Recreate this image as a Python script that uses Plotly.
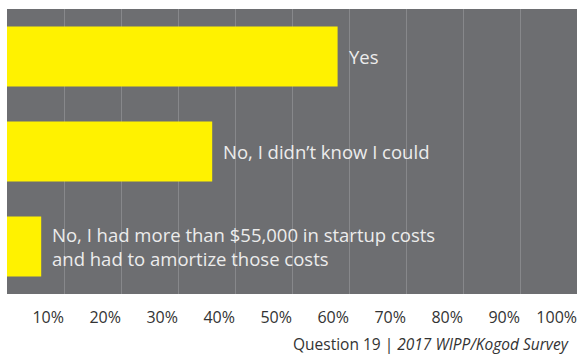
import plotly.graph_objects as go

# Survey responses (percent of respondents)
categories = ["Yes", "No, I didn’t know I could",
              "No, I had more than $55,000 in startup costs<br>and had to amortize those costs"]
values = [58, 36, 6]
tick_values = [10, 20, 30, 40, 50, 60, 70, 80, 90, 100]
tick_labels = [f"{v}%" for v in tick_values]

FONT = "Open Sans"
BG = "#6d6e71"
GRID = "#87888b"
BAR = "#fff200"

fig = go.Figure()
fig.add_trace(go.Bar(
    x=values,
    y=categories,
    orientation="h",
    marker=dict(color=BAR, line=dict(width=0)),
    hoverinfo="skip",
))

# Category labels sit just past the end of each bar
for cat, val in zip(categories, values):
    fig.add_annotation(
        x=val, y=cat, xref="x", yref="y",
        text=cat, showarrow=False,
        xanchor="left", yanchor="middle", align="left",
        xshift=9,
        font=dict(family=FONT, size=18.5, color="#ececec"),
    )

# Source line
fig.add_annotation(
    x=1, y=0, xref="paper", yref="paper",
    xanchor="right", yanchor="top", yshift=-37, xshift=-6,
    text="Question 19 | <i>2017 WIPP/Kogod Survey</i>",
    showarrow=False,
    font=dict(family=FONT, size=15.5, color="#333333"),
)

fig.update_layout(
    width=577, height=354,
    margin=dict(l=7, r=0, t=9, b=60),
    paper_bgcolor="white",
    plot_bgcolor=BG,
    bargap=0.37,
    showlegend=False,
    xaxis=dict(
        range=[0, 100],
        tickvals=tick_values,
        ticktext=tick_labels,
        ticklabelposition="outside left",
        ticklabelstandoff=12,
        showgrid=True, gridcolor=GRID, gridwidth=1.2,
        zeroline=False, showline=False, ticks="",
        tickfont=dict(family=FONT, size=16, color="#333333"),
        fixedrange=True,
    ),
    yaxis=dict(
        categoryorder="array",
        categoryarray=categories[::-1],
        showticklabels=False, showgrid=False, zeroline=False,
        fixedrange=True,
    ),
)

fig.write_html("out.html")
